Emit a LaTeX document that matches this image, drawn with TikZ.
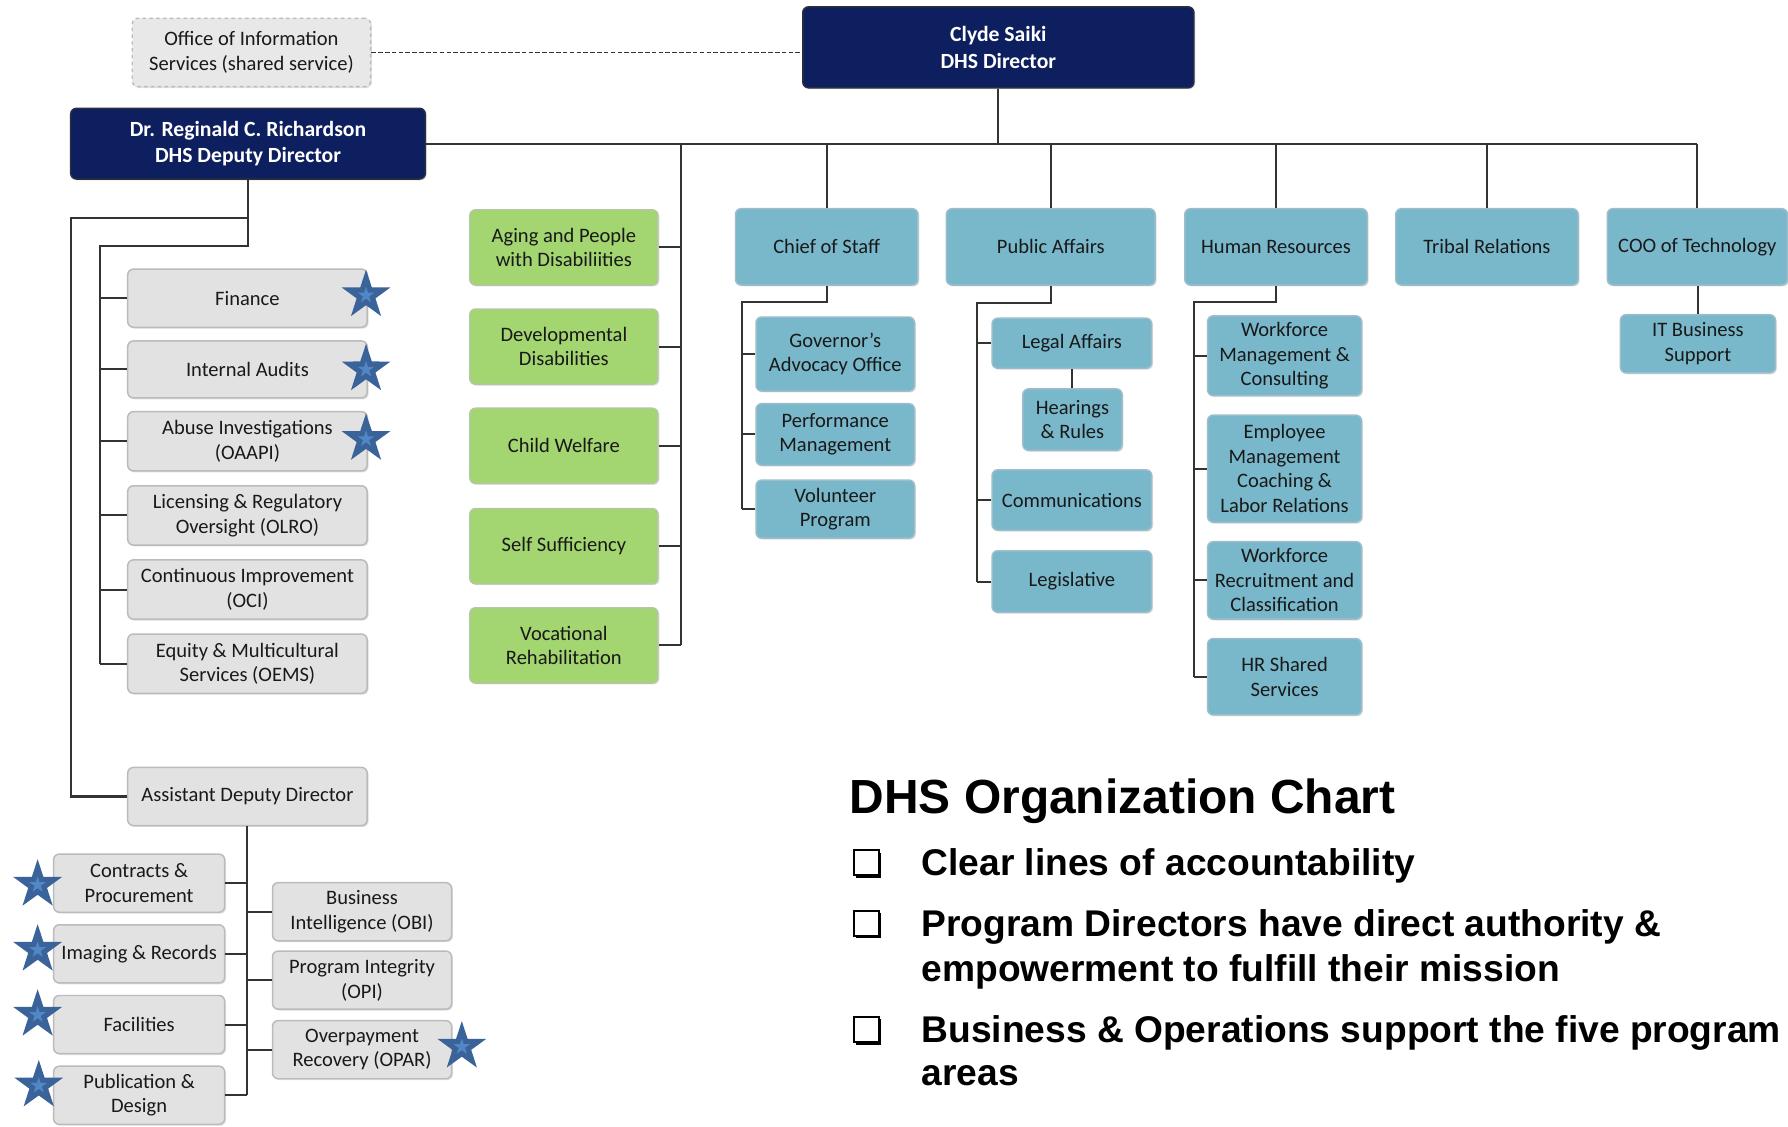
\documentclass[tikz,border=0pt]{standalone}
\usepackage{fontspec}
\setmainfont{Carlito}
\newfontfamily\arialfont{Liberation Sans}
\usetikzlibrary{shapes.geometric,shadows}
\definecolor{navy}{HTML}{0D1F5E}
\definecolor{navyedge}{HTML}{2A2F3F}
\definecolor{boxgray}{HTML}{E2E2E2}
\definecolor{edgegray}{HTML}{BBBBBB}
\definecolor{boxgreen}{HTML}{A3D570}
\definecolor{edgegreen}{HTML}{B3C8A2}
\definecolor{boxblue}{HTML}{79B8CB}
\definecolor{edgeblue}{HTML}{9DBDCA}
\definecolor{linegray}{HTML}{333333}
\definecolor{stardark}{HTML}{3A6399}
\definecolor{starlight}{HTML}{5287C6}
\begin{document}
\begin{tikzpicture}[x=1pt,y=-1pt,
  box/.style={rounded corners=5pt, line width=1.3pt, align=center, inner sep=2pt,
    font=\fontsize{18}{21.5}\selectfont, text=black!90,
    drop shadow={shadow xshift=1.2pt, shadow yshift=-1.2pt, opacity=0.25}},
  gbox/.style={box, fill=boxgray, draw=edgegray},
  grbox/.style={box, fill=boxgreen, draw=edgegreen},
  blbox/.style={box, fill=boxblue, draw=edgeblue},
  nvbox/.style={box, fill=navy, draw=navyedge, text=white, font=\bfseries\fontsize{19}{23.5}\selectfont},
  oisbox/.style={box, fill=boxgray!80, draw=edgegray, dashed, line width=1.2pt},
  conn/.style={line width=1.8pt, draw=linegray},
  bstar/.style={star, star points=5, star point ratio=2.6, minimum size=45pt, inner sep=0pt, fill=stardark},
  istar/.style={star, star points=5, star point ratio=2.6, minimum size=15pt, inner sep=0pt, fill=starlight},
  chk/.style={draw=black, line width=1.8pt, fill=white, minimum size=22pt, inner sep=0pt,
    drop shadow={shadow xshift=2.5pt, shadow yshift=-2.5pt, opacity=1, fill=black}},
  bul/.style={anchor=base west, inner sep=0pt, font=\arialfont\bfseries\fontsize{32.6}{38}\selectfont},
]
\clip (0,0) rectangle (1568,987.5);
\fill[white] (0,0) rectangle (1568,987.5);

% ---------- top level ----------
\node[nvbox, minimum width=343pt, minimum height=71pt] (clyde) at (875.5,41.5) {Clyde Saiki\\DHS Director};
\node[oisbox, minimum width=209pt, minimum height=60pt] (ois) at (220.5,46) {Office of Information\\Services (shared service)};
\node[nvbox, minimum width=311pt, minimum height=62pt] (dep) at (217.5,126) {Dr. Reginald C. Richardson\\DHS Deputy Director};

% ---------- left gray column ----------
\node[gbox, minimum width=210pt, minimum height=51pt] (fin) at (217,261.5) {Finance};
\node[gbox, minimum width=210pt, minimum height=50pt] (ia) at (217,324) {Internal Audits};
\node[gbox, minimum width=210pt, minimum height=52pt] (abuse) at (217,387) {Abuse Investigations\\(OAAPI)};
\node[gbox, minimum width=210pt, minimum height=52pt] (lic) at (217,452) {Licensing \& Regulatory\\Oversight (OLRO)};
\node[gbox, minimum width=210pt, minimum height=52pt] (oci) at (217,517) {Continuous Improvement\\(OCI)};
\node[gbox, minimum width=210pt, minimum height=52pt] (oems) at (217,582) {Equity \& Multicultural\\Services (OEMS)};

% ---------- green programs ----------
\node[grbox, minimum width=165pt, minimum height=66pt] (aging) at (494.5,217) {Aging and People\\with Disabiliities};
\node[grbox, minimum width=165pt, minimum height=66pt] (dd) at (494.5,304) {Developmental\\Disabilities};
\node[grbox, minimum width=165pt, minimum height=66pt] (cw) at (494.5,391) {Child Welfare};
\node[grbox, minimum width=165pt, minimum height=66pt] (ss) at (494.5,479) {Self Sufficiency};
\node[grbox, minimum width=165pt, minimum height=66pt] (vr) at (494.5,566) {Vocational\\Rehabilitation};

% ---------- blue top row ----------
\node[blbox, minimum width=160pt, minimum height=67pt] (cos) at (725,216.5) {Chief of Staff};
\node[blbox, minimum width=183pt, minimum height=67pt] (pa) at (921.5,216.5) {Public Affairs};
\node[blbox, minimum width=160pt, minimum height=67pt] (hr) at (1119,216.5) {Human Resources};
\node[blbox, minimum width=160pt, minimum height=67pt] (tr) at (1304,216.5) {Tribal Relations};
\node[blbox, minimum width=158pt, minimum height=67pt] (coo) at (1488.5,216.5) {COO of Technology};

% chief of staff children
\node[blbox, minimum width=139pt, minimum height=65pt] (gov) at (732.5,310.5) {Governor’s\\Advocacy Office};
\node[blbox, minimum width=139pt, minimum height=54pt] (perf) at (732.5,381) {Performance\\Management};
\node[blbox, minimum width=139pt, minimum height=51pt] (vol) at (732.5,446.5) {Volunteer\\Program};

% public affairs children
\node[blbox, minimum width=140pt, minimum height=44pt] (legal) at (940,301) {Legal Affairs};
\node[blbox, minimum width=87pt, minimum height=54pt] (hear) at (940.5,368) {Hearings\\\& Rules};
\node[blbox, minimum width=140pt, minimum height=53pt] (comm) at (940,438.5) {Communications};
\node[blbox, minimum width=140pt, minimum height=54pt] (legis) at (940,510) {Legislative};

% HR children
\node[blbox, minimum width=135pt, minimum height=70pt] (wmc) at (1126.5,312) {Workforce\\Management \&\\Consulting};
\node[blbox, minimum width=135pt, minimum height=94pt] (emc) at (1126.5,411) {Employee\\Management\\Coaching \&\\Labor Relations};
\node[blbox, minimum width=135pt, minimum height=68pt] (wrc) at (1126.5,509) {Workforce\\Recruitment and\\Classification};
\node[blbox, minimum width=135pt, minimum height=67pt] (hrs) at (1126.5,593.5) {HR Shared\\Services};

% COO child
\node[blbox, minimum width=136pt, minimum height=51pt] (it) at (1489,301.5) {IT Business\\Support};

% ---------- assistant deputy director ----------
\node[gbox, minimum width=210pt, minimum height=51pt] (add) at (217,698.5) {Assistant Deputy Director};
\node[gbox, minimum width=150pt, minimum height=51pt] (cp) at (122,774.5) {Contracts \&\\Procurement};
\node[gbox, minimum width=150pt, minimum height=51pt] (ir) at (122,836.5) {Imaging \& Records};
\node[gbox, minimum width=150pt, minimum height=51pt] (fac) at (122,898.5) {Facilities};
\node[gbox, minimum width=150pt, minimum height=51pt] (pub) at (122,960.5) {Publication \&\\Design};
\node[gbox, minimum width=157pt, minimum height=51pt] (obi) at (317.5,799.5) {Business\\Intelligence (OBI)};
\node[gbox, minimum width=157pt, minimum height=51pt] (opi) at (317.5,859.5) {Program Integrity\\(OPI)};
\node[gbox, minimum width=157pt, minimum height=51pt] (opar) at (317.5,920.5) {Overpayment\\Recovery (OPAR)};

% ---------- connectors ----------
\coordinate (gb) at (597,126);
\coordinate (d1) at (62,191);
\coordinate (d2) at (88,216);
\coordinate (c1) at (651,265);
\coordinate (p1) at (857,266);
\coordinate (h1) at (1047,265);

\draw[conn, dashed, line width=1.6pt, dash pattern=on 4pt off 2pt] (ois.east) -- (ois.east -| clyde.west);
\draw[conn] (dep.east) -- (dep.east -| coo.north);
\draw[conn] (clyde.south) -- (clyde.south |- dep.east);
\draw[conn] (gb) -- (gb |- vr.east);
\foreach \n in {aging,dd,cw,ss,vr} \draw[conn] (\n.east) -- (\n.east -| gb);
\foreach \n in {cos,pa,hr,tr,coo} \draw[conn] (\n.north) -- (\n.north |- dep.east);

\draw[conn] (dep.south) -- (dep.south |- d2) -- (d2) -- (d2 |- oems.west);
\draw[conn] (dep.south |- d1) -- (d1) |- (add.west);
\foreach \n in {fin,ia,abuse,lic,oci,oems} \draw[conn] (\n.west) -- (\n.west -| d2);

\draw[conn] (cos.south) |- (c1) -- (c1 |- vol.west);
\foreach \n in {gov,perf,vol} \draw[conn] (\n.west) -- (\n.west -| c1);

\draw[conn] (pa.south) |- (p1) -- (p1 |- legis.west);
\foreach \n in {legal,comm,legis} \draw[conn] (\n.west) -- (\n.west -| p1);
\draw[conn] (legal.south) -- (legal.south |- hear.north);

\draw[conn] (hr.south) |- (h1) -- (h1 |- hrs.west);
\foreach \n in {wmc,emc,wrc,hrs} \draw[conn] (\n.west) -- (\n.west -| h1);

\draw[conn] (coo.south -| it.north) -- (it.north);

\draw[conn] (add.south) -- (add.south |- pub.east);
\foreach \n in {cp,ir,fac,pub} \draw[conn] (\n.east) -- (\n.east -| add.south);
\foreach \n in {obi,opi,opar} \draw[conn] (\n.west) -- (\n.west -| add.south);

% ---------- stars ----------
\foreach \nm/\p in {s1/{321,259}, s2/{321,324}, s3/{321,385}, s4/{33,776}, s5/{33,833}, s6/{33,890}, s7/{34,952}, s8/{405,918}} {
  \node[bstar] (\nm) at (\p) {};
  \node[istar] at (\nm) {};
}

% ---------- text block ----------
\node[anchor=base west, inner sep=0pt, font=\arialfont\bfseries\fontsize{42}{48}\selectfont] (title) at (745,713) {DHS Organization Chart};
\node[chk] (k1) at (759.5,756.5) {};
\node[chk] (k2) at (759.5,809.5) {};
\node[chk] (k3) at (759.5,902.5) {};
\node[bul] (b1) at (808,768) {Clear lines of accountability};
\node[bul] (b2a) at (808,821) {Program Directors have direct authority \&};
\node[bul] (b2b) at (808,861) {empowerment to fulfill their mission};
\node[bul] (b3a) at (808,914) {Business \& Operations support the five program};
\node[bul] (b3b) at (808,952) {areas};
\end{tikzpicture}
\end{document}
